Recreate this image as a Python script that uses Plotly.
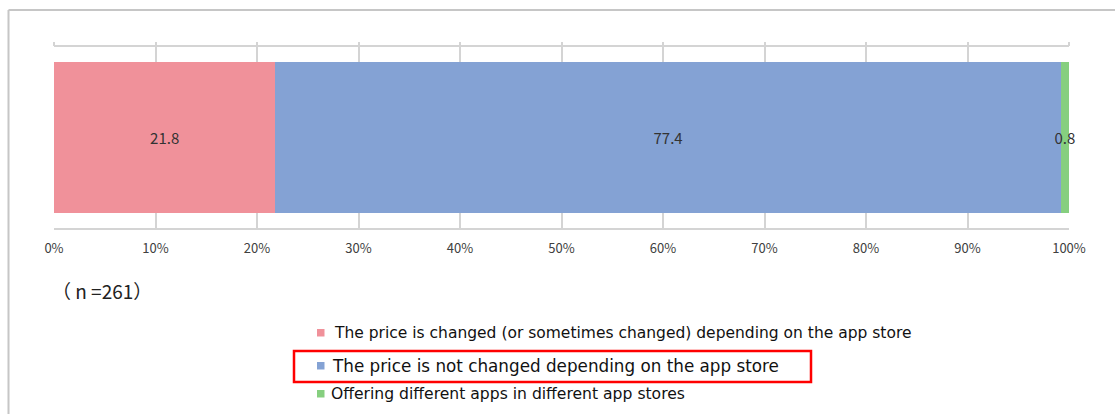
import plotly.graph_objects as go

# Survey shares (%) for a single stacked bar
series_names = [
    "The price is changed (or sometimes changed) depending on the app store",
    "The price is not changed depending on the app store",
    "Offering different apps in different app stores",
]
series_values = [21.8, 77.4, 0.8]
series_colors = ["#f0919a", "#84a2d4", "#86cf7f"]
category = [""]
tick_values = [0, 10, 20, 30, 40, 50, 60, 70, 80, 90, 100]
tick_labels = [f"{v}%" for v in tick_values]
sample_note = "（ n =261）"

W, H = 1115, 414
L, R, T, B = 54, 46, 47, 186
pw, ph = W - L - R, H - T - B


def px_x(x):
    return (x - L) / pw


def px_y(y):
    return 1 - (y - T) / ph


fig = go.Figure()
for name, val, col in zip(series_names, series_values, series_colors):
    fig.add_trace(go.Bar(
        x=[val], y=category, orientation="h", name=name,
        marker=dict(color=col, line=dict(width=0)),
        text=[f"{val}"], textposition="inside", insidetextanchor="middle",
        textfont=dict(family="Noto Sans CJK JP", size=15, color="#333333"),
        cliponaxis=False, showlegend=False, width=0.834,
    ))

fig.update_layout(
    width=W, height=H, barmode="stack",
    margin=dict(l=L, r=R, t=T, b=B),
    paper_bgcolor="white", plot_bgcolor="white",
    uniformtext=dict(mode="show", minsize=15),
    xaxis=dict(
        range=[0, 100], tickvals=tick_values, ticktext=tick_labels,
        showgrid=True, gridcolor="#d4d4d4", gridwidth=1.5,
        showline=True, linecolor="#d4d4d4", linewidth=1.5, mirror=True,
        zeroline=False, ticklabelstandoff=8,
        tickfont=dict(family="Noto Sans CJK JP", size=13, color="#404040"),
    ),
    xaxis2=dict(
        range=[0, 100], tickvals=tick_values, overlaying="x", side="top",
        ticks="outside", ticklen=4, tickcolor="#d4d4d4", tickwidth=1.5,
        showticklabels=False, showgrid=False, zeroline=False,
    ),
    yaxis=dict(range=[-0.5, 0.5], showticklabels=False, showgrid=False,
               zeroline=False, showline=False),
)
# invisible trace to activate the top tick axis
fig.add_trace(go.Scatter(x=[0, 100], y=["", ""], xaxis="x2", mode="none",
                         showlegend=False, hoverinfo="skip"))

shapes = [
    # outer frame (left and top edges)
    dict(type="line", xref="paper", yref="paper",
         x0=px_x(8.5), x1=px_x(8.5), y0=px_y(10), y1=px_y(H + 5),
         line=dict(color="#c6c6c6", width=2)),
    dict(type="line", xref="paper", yref="paper",
         x0=px_x(8.5), x1=px_x(W + 5), y0=px_y(10), y1=px_y(10),
         line=dict(color="#c6c6c6", width=2)),
    # highlight box around the second entry
    dict(type="rect", xref="paper", yref="paper",
         x0=px_x(294), x1=px_x(811), y0=px_y(351), y1=px_y(382),
         line=dict(color="#ff0000", width=2.5)),
]

annotations = [
    dict(text=sample_note, xref="paper", yref="paper", x=px_x(50), y=px_y(290),
         xanchor="left", yanchor="middle", showarrow=False,
         font=dict(family="Noto Sans CJK JP", size=19, color="#222222")),
]

legend_rows = [(333, 15.5, 333), (366, 16.8, 331), (394, 15.6, 330)]
for (ly, fs, tx), name, col in zip(legend_rows, series_names, series_colors):
    shapes.append(dict(type="rect", xref="paper", yref="paper",
                       x0=px_x(317), x1=px_x(324.5), y0=px_y(ly - 4), y1=px_y(ly + 3.5),
                       fillcolor=col, line=dict(width=0)))
    annotations.append(dict(text=name, xref="paper", yref="paper",
                            x=px_x(tx - 1), y=px_y(ly), xanchor="left", yanchor="middle",
                            showarrow=False,
                            font=dict(family="DejaVu Sans", size=fs, color="#111111")))

fig.update_layout(shapes=shapes, annotations=annotations)
fig.write_html("out.html")
